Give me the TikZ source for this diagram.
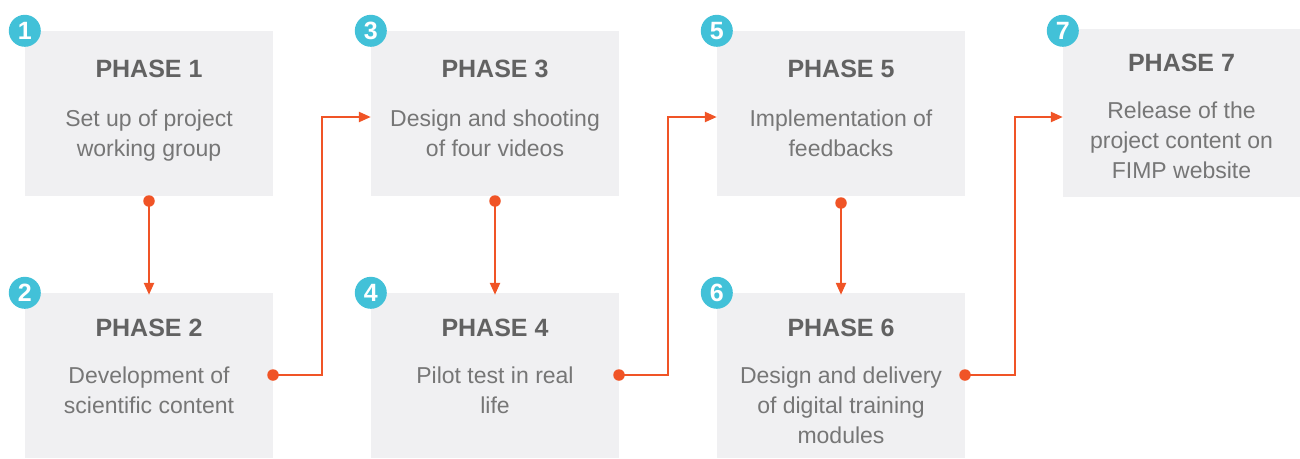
\documentclass[tikz,border=0pt]{standalone}
\usepackage{fontspec}
\setmainfont{Liberation Sans}
\usetikzlibrary{arrows.meta}
\definecolor{boxfill}{RGB}{240,240,242}
\definecolor{titlegray}{RGB}{98,98,98}
\definecolor{bodygray}{RGB}{118,118,118}
\definecolor{flow}{RGB}{240,84,38}
\definecolor{badgecyan}{RGB}{66,193,216}
\tikzset{
  phasebox/.style={rectangle, fill=boxfill, draw=none, minimum width=248pt, minimum height=165pt, inner sep=0pt},
  title/.style={anchor=base, inner sep=0pt, text=titlegray, font=\fontsize{25}{30}\selectfont\bfseries},
  body/.style={anchor=base, inner sep=0pt, text=bodygray, font=\fontsize{23}{30}\selectfont},
  badge/.style={circle, fill=badgecyan, minimum size=32pt, inner sep=0pt, text=white, font=\fontsize{25}{25}\selectfont\bfseries},
  dot/.style={circle, fill=flow, minimum size=11.5pt, inner sep=0pt},
  conn/.style={draw=flow, line width=2.3pt, -{Triangle[length=12pt, width=10pt]}},
}
\begin{document}
\begin{tikzpicture}[x=1pt, y=-1pt]
\useasboundingbox (0,0) rectangle (1300,458);

% phase boxes
\node[phasebox] (b1) at (149,113.5) {};
\node[phasebox] (b2) at (149,375.5) {};
\node[phasebox] (b3) at (495,113.5) {};
\node[phasebox] (b4) at (495,375.5) {};
\node[phasebox] (b5) at (841,113.5) {};
\node[phasebox] (b6) at (841,375.5) {};
\node[phasebox, minimum width=237pt, minimum height=168pt] (b7) at (1181.5,113) {};

% titles
\node[title] (t1) at (149,77) {PHASE 1};
\node[title] (t2) at (149,336) {PHASE 2};
\node[title] (t3) at (495,77) {PHASE 3};
\node[title] (t4) at (495,336) {PHASE 4};
\node[title] (t5) at (841,77) {PHASE 5};
\node[title] (t6) at (841,336) {PHASE 6};
\node[title] (t7) at (1181.5,71) {PHASE 7};

% descriptions
\node[body] (l1a) at (149,126) {Set up of project};
\node[body] (l1b) at (149,156) {working group};
\node[body] (l2a) at (149,383) {Development of};
\node[body] (l2b) at (149,413) {scientific content};
\node[body] (l3a) at (495,126) {Design and shooting};
\node[body] (l3b) at (495,156) {of four videos};
\node[body] (l4a) at (495,383) {Pilot test in real};
\node[body] (l4b) at (495,413) {life};
\node[body] (l5a) at (841,126) {Implementation of};
\node[body] (l5b) at (841,156) {feedbacks};
\node[body] (l6a) at (841,383) {Design and delivery};
\node[body] (l6b) at (841,413) {of digital training};
\node[body] (l6c) at (841,443) {modules};
\node[body] (l7a) at (1181.5,118) {Release of the};
\node[body] (l7b) at (1181.5,148) {project content on};
\node[body] (l7c) at (1181.5,178) {FIMP website};

% numbered badges on the top-left corners
\node[badge] (n1) at (b1.north west) {1};
\node[badge] (n2) at (b2.north west) {2};
\node[badge] (n3) at (b3.north west) {3};
\node[badge] (n4) at (b4.north west) {4};
\node[badge] (n5) at (b5.north west) {5};
\node[badge] (n6) at (b6.north west) {6};
\node[badge] (n7) at ([yshift=-2pt]b7.north west) {7};

% connector start dots
\node[dot] (d1) at (149,201) {};
\node[dot] (d3) at (495,201) {};
\node[dot] (d5) at (841,203) {};
\node[dot] (d2) at (273,375) {};
\node[dot] (d4) at (619,375) {};
\node[dot] (d6) at (965,375) {};

% elbow corners
\coordinate (e2) at (322,117);
\coordinate (e4) at (668,117);
\coordinate (e6) at (1015,117);

% vertical links
\draw[conn] (d1.center) -- ([yshift=-2pt]b2.north);
\draw[conn] (d3.center) -- ([yshift=-2pt]b4.north);
\draw[conn] (d5.center) -- ([yshift=-2pt]b6.north);

% elbow links to the next column
\draw[conn] (d2.center) -| (e2) -- (b3.west |- e2);
\draw[conn] (d4.center) -| (e4) -- (b5.west |- e4);
\draw[conn] (d6.center) -| (e6) -- (b7.west |- e6);
\end{tikzpicture}
\end{document}
